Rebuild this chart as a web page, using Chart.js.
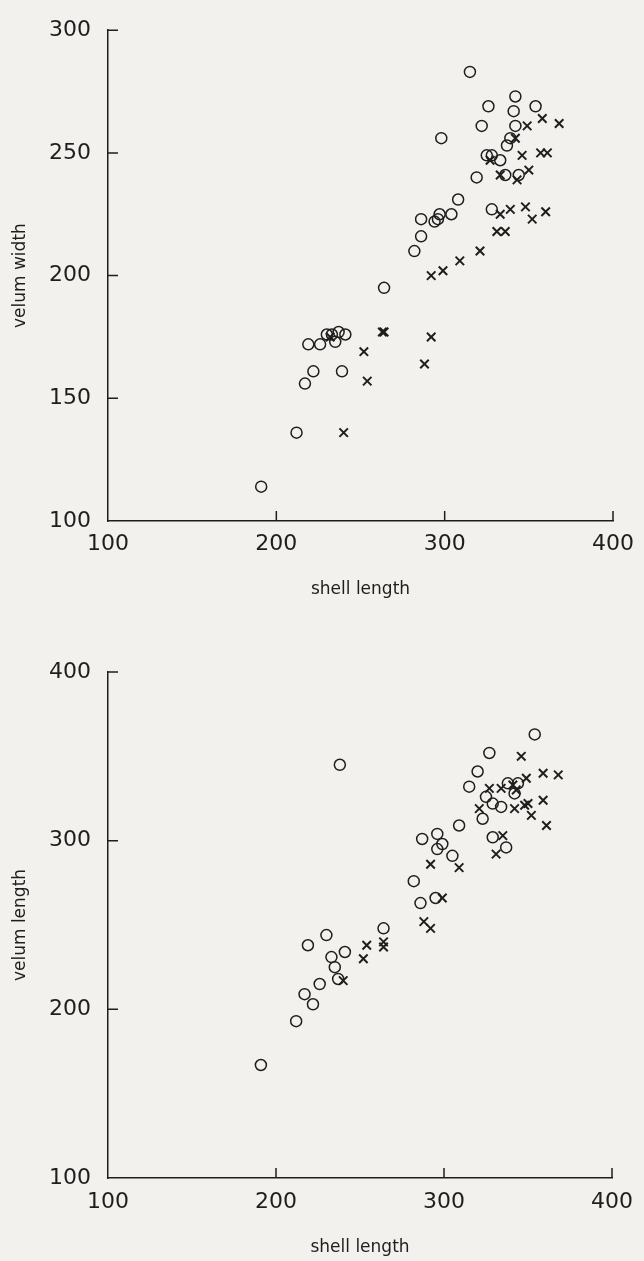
<!DOCTYPE html>
<html lang="en">
<head>
  <meta charset="UTF-8">
  <title>Velum width and velum length against shell length</title>
  <script src="https://cdn.jsdelivr.net/npm/chart.js"></script>
  <style>
    body {
      margin: 0;
      padding: 0;
      background-color: #f3f1ee;
      width: 644px;
      height: 1261px;
      overflow: hidden;
      position: relative;
    }

    canvas {
      position: absolute;
      left: 0;
    }

    #topChart {
      top: 0;
    }

    #bottomChart {
      top: 630px;
    }
  </style>
</head>
<body>

<canvas id="topChart" width="644" height="620"></canvas>
<canvas id="bottomChart" width="644" height="631"></canvas>

<script>
  // tick values
  var xTicks = [100, 200, 300, 400];
  var topYTicks = [100, 150, 200, 250, 300];
  var bottomYTicks = [100, 200, 300, 400];

  // top plot: velum width vs shell length
  var topCircleX = [315, 342, 326, 354, 341, 322, 342, 298, 339, 337, 325, 328, 333, 319, 336, 344, 308, 328, 286,
    297, 304, 294, 296, 286, 282, 264, 219, 226, 230, 233, 237, 241, 235, 222, 239, 217, 212, 191];
  var topCircleY = [283, 273, 269, 269, 267, 261, 261, 256, 256, 253, 249, 249, 247, 240, 241, 241, 231, 227, 223,
    225, 225, 222, 223, 216, 210, 195, 172, 172, 176, 176, 177, 176, 173, 161, 161, 156, 136, 114];
  var topCrossX = [358, 368, 349, 342, 357, 361, 346, 327, 350, 333, 343, 333, 339, 348, 352, 360, 331, 336, 321,
    309, 299, 292, 263, 264, 252, 254, 240, 232, 292, 288];
  var topCrossY = [264, 262, 261, 256, 250, 250, 249, 247, 243, 241, 239, 225, 227, 228, 223, 226, 218, 218, 210,
    206, 202, 200, 177, 177, 169, 157, 136, 175, 175, 164];

  // bottom plot: velum length vs shell length
  var bottomCircleX = [238, 230, 219, 241, 233, 235, 237, 226, 217, 222, 212, 191, 354, 327, 320, 315, 325, 329,
    334, 323, 309, 296, 287, 299, 296, 305, 329, 337, 282, 295, 286, 338, 344, 342, 264];
  var bottomCircleY = [345, 244, 238, 234, 231, 225, 218, 215, 209, 203, 193, 167, 363, 352, 341, 332, 326, 322,
    320, 313, 309, 304, 301, 298, 295, 291, 302, 296, 276, 266, 263, 334, 334, 328, 248];
  var bottomCrossX = [240, 254, 252, 346, 359, 368, 349, 327, 334, 341, 343, 359, 350, 348, 342, 352, 321, 361,
    335, 331, 292, 309, 299, 264, 264, 288, 292];
  var bottomCrossY = [217, 238, 230, 350, 340, 339, 337, 331, 331, 333, 330, 324, 322, 321, 319, 315, 319, 309,
    303, 292, 286, 284, 266, 240, 237, 252, 248];

  function toPoints(xs, ys) {
    var pts = [];
    for (var i = 0; i < xs.length; i++) {
      pts.push({ x: xs[i], y: ys[i] });
    }
    return pts;
  }

  var ink = '#1e1e1e';
  var tickFont = { family: 'DejaVu Sans', size: 22 };
  var titleFont = { family: 'DejaVu Sans', size: 17 };

  // small ticks pointing into the plot, like the printed figure
  var inwardTicks = {
    id: 'inwardTicks',
    afterDraw: function (chart) {
      var ctx = chart.ctx;
      var area = chart.chartArea;
      var xs = chart.scales.x;
      var ys = chart.scales.y;
      ctx.save();
      ctx.strokeStyle = ink;
      ctx.lineWidth = 1.5;
      ctx.beginPath();
      xs.ticks.forEach(function (t) {
        if (t.value === xs.min) return;
        var px = xs.getPixelForValue(t.value);
        ctx.moveTo(px, area.bottom);
        ctx.lineTo(px, area.bottom - 10);
      });
      ys.ticks.forEach(function (t) {
        if (t.value === ys.min) return;
        var py = ys.getPixelForValue(t.value);
        ctx.moveTo(area.left, py);
        ctx.lineTo(area.left + 10, py);
      });
      ctx.stroke();
      ctx.restore();
    }
  };

  function makeChart(id, circles, crosses, yTicks, yTitle, opts) {
    var ctx = document.getElementById(id).getContext('2d');
    return new Chart(ctx, {
      type: 'scatter',
      data: {
        datasets: [{
          data: circles,
          pointStyle: 'circle',
          pointRadius: 5.5,
          pointBorderWidth: 1.5,
          borderColor: ink,
          backgroundColor: 'rgba(0,0,0,0)'
        }, {
          data: crosses,
          pointStyle: 'crossRot',
          pointRadius: 6,
          pointBorderWidth: 2,
          borderColor: ink,
          backgroundColor: ink
        }]
      },
      options: {
        responsive: false,
        animation: false,
        devicePixelRatio: 1,
        layout: {
          padding: { top: opts.padTop, right: 21, left: 0, bottom: 0 }
        },
        plugins: {
          legend: { display: false },
          tooltip: { enabled: false }
        },
        scales: {
          x: {
            type: 'linear',
            min: 100,
            max: 400,
            afterBuildTicks: function (s) {
              s.ticks = xTicks.map(function (v) { return { value: v }; });
            },
            afterFit: function (s) {
              s.height = opts.xHeight;
            },
            grid: { display: true, drawOnChartArea: false, drawTicks: false },
            border: { display: true, color: ink, width: 1.5 },
            ticks: { color: ink, font: tickFont, padding: opts.xTickPad, maxRotation: 0 },
            title: {
              display: true,
              text: 'shell length',
              color: ink,
              font: titleFont,
              padding: { top: 0, bottom: opts.xTitlePad }
            }
          },
          y: {
            type: 'linear',
            min: yTicks[0],
            max: yTicks[yTicks.length - 1],
            afterBuildTicks: function (s) {
              s.ticks = yTicks.map(function (v) { return { value: v }; });
            },
            afterFit: function (s) {
              s.width = 108;
            },
            grid: { display: true, drawOnChartArea: false, drawTicks: false },
            border: { display: true, color: ink, width: 1.5 },
            ticks: { color: ink, font: tickFont, padding: 17 },
            title: {
              display: true,
              text: yTitle,
              color: ink,
              font: titleFont,
              padding: { top: 10, bottom: 0 }
            }
          }
        }
      },
      plugins: [inwardTicks]
    });
  }

  makeChart('topChart', toPoints(topCircleX, topCircleY), toPoints(topCrossX, topCrossY),
    topYTicks, 'velum width', { padTop: 15, xHeight: 99, xTickPad: 10, xTitlePad: 20 });

  makeChart('bottomChart', toPoints(bottomCircleX, bottomCircleY), toPoints(bottomCrossX, bottomCrossY),
    bottomYTicks, 'velum length', { padTop: 42, xHeight: 83, xTickPad: 11, xTitlePad: 3 });
</script>

</body>
</html>
